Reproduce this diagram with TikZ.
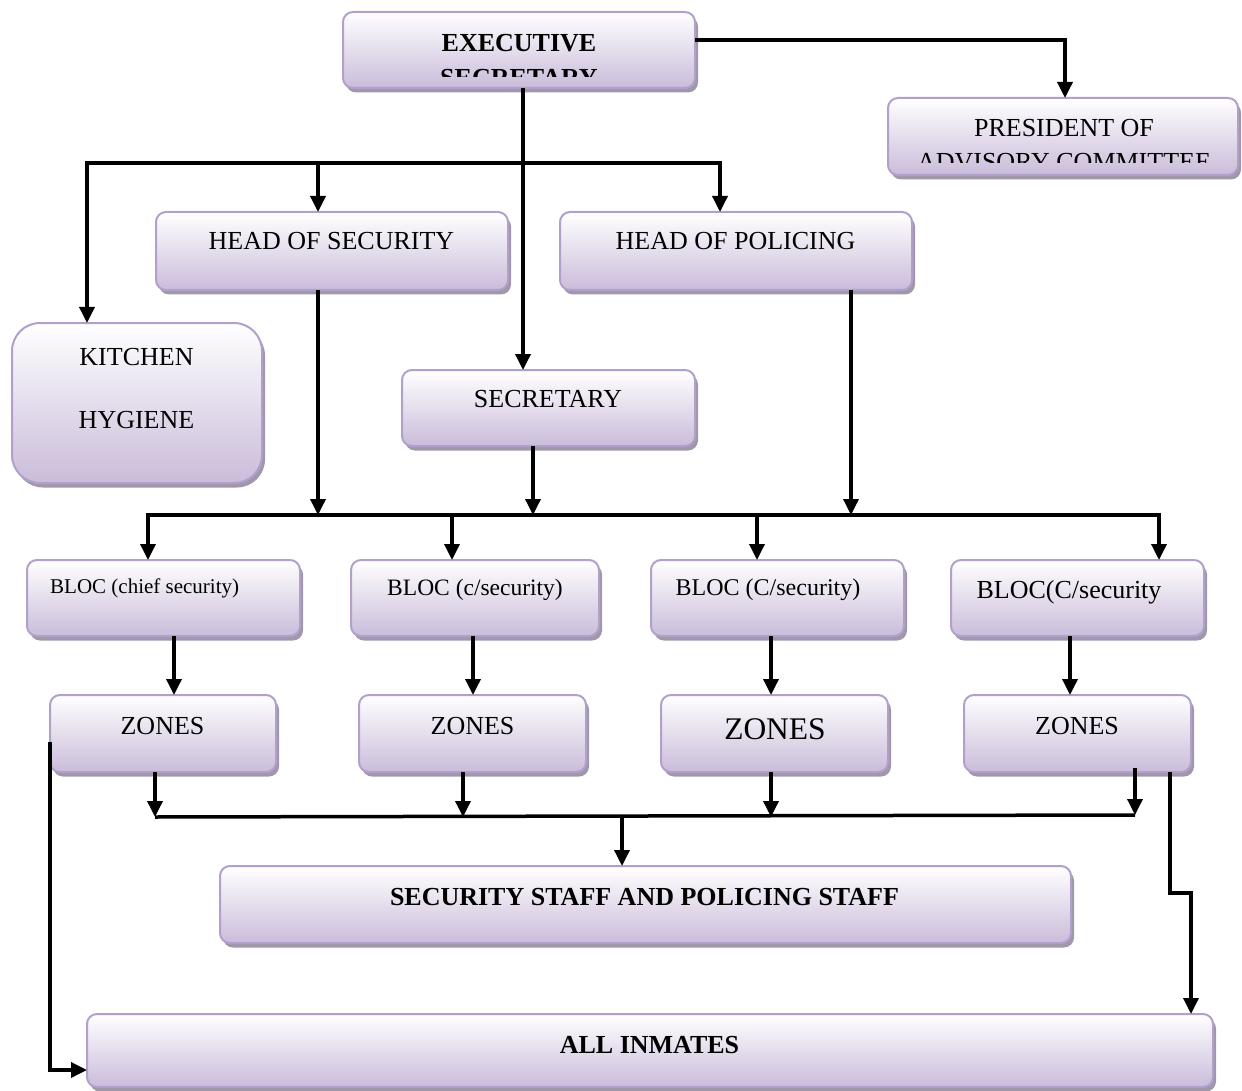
\documentclass[tikz,border=0pt]{standalone}
\usepackage{fontspec}
\setmainfont{Liberation Serif}
\usetikzlibrary{arrows.meta,shadows}
\definecolor{boxline}{RGB}{178,160,204}
\definecolor{boxbot}{RGB}{202,188,218}
\definecolor{shadowc}{RGB}{160,152,170}
\tikzset{
 bx/.style={draw=boxline, line width=2pt, rounded corners=10pt, top color=white, bottom color=boxbot,
   drop shadow={shadow xshift=3pt,shadow yshift=-4.5pt,fill=shadowc,opacity=1},
   inner sep=0pt, outer sep=0pt},
 tx/.style={anchor=base, inner sep=0pt, font=\fontsize{26}{30}\selectfont},
 ln/.style={line width=3.5pt, line cap=butt, line join=miter},
 arr/.style={ln, -{Triangle[width=15pt,length=16pt]}},
 arr2/.style={ln, {Triangle[width=15pt,length=16pt]}-{Triangle[width=15pt,length=16pt]}},
}
\begin{document}
\begin{tikzpicture}[x=1pt,y=-1pt]
\useasboundingbox (0,0) rectangle (1242,1091);

% boxes
\node[bx, minimum width=352pt, minimum height=76pt] (exec) at (519,50) {};
\node[bx, minimum width=350pt, minimum height=77pt] (pres) at (1063,136.5) {};
\node[bx, minimum width=352pt, minimum height=78pt] (hsec) at (332,251) {};
\node[bx, minimum width=352pt, minimum height=78pt] (hpol) at (736,251) {};
\node[bx, rounded corners=28pt, minimum width=250pt, minimum height=160pt] (kitchen) at (137,403) {};
\node[bx, minimum width=293pt, minimum height=76pt] (secr) at (548.5,408) {};
\node[bx, minimum width=273pt, minimum height=76pt] (bloc1) at (163.5,598) {};
\node[bx, minimum width=248pt, minimum height=76pt] (bloc2) at (475,598) {};
\node[bx, minimum width=253pt, minimum height=76pt] (bloc3) at (777.5,598) {};
\node[bx, minimum width=253pt, minimum height=76pt] (bloc4) at (1077.5,598) {};
\node[bx, minimum width=226pt, minimum height=77pt] (zones1) at (163,733.5) {};
\node[bx, minimum width=227pt, minimum height=77pt] (zones2) at (472.5,733.5) {};
\node[bx, minimum width=227pt, minimum height=77pt] (zones3) at (774.5,733.5) {};
\node[bx, minimum width=227pt, minimum height=77pt] (zones4) at (1077.5,733.5) {};
\node[bx, minimum width=851pt, minimum height=77pt] (staff) at (645.5,904.5) {};
\node[bx, minimum width=1126pt, minimum height=73pt] (inmates) at (650,1050.5) {};

% texts
\begin{scope}
\clip (345,14) rectangle (693,77);
\node[tx, font=\fontsize{26}{30}\selectfont\bfseries] (exec-t1) at (519,52) {EXECUTIVE};
\node[tx, font=\fontsize{26}{30}\selectfont\bfseries] (exec-t2) at (519,87) {SECRETARY};
\end{scope}
\begin{scope}
\clip (890,100) rectangle (1236,163);
\node[tx] (pres-t1) at (1064,137) {PRESIDENT OF};
\node[tx] (pres-t2) at (1064,171) {ADVISORY COMMITTEE};
\end{scope}
\node[tx] (hsec-t) at (331.5,250) {HEAD OF SECURITY};
\node[tx] (hpol-t) at (735.5,250) {HEAD OF POLICING};
\node[tx] (kitchen-t1) at (136.5,365) {KITCHEN};
\node[tx] (kitchen-t2) at (136.5,428) {HYGIENE};
\node[tx] (secr-t) at (548,407) {SECRETARY};
\node[tx, anchor=base west, font=\fontsize{21}{25}\selectfont] (bloc1-t) at (50,593) {BLOC (chief security)};
\node[tx, font=\fontsize{23.5}{27}\selectfont] (bloc2-t) at (475,595) {BLOC (c/security)};
\node[tx, font=\fontsize{24}{28}\selectfont] (bloc3-t) at (768,595) {BLOC (C/security)};
\node[tx] (bloc4-t) at (1069,598) {BLOC(C/security};
\node[tx] (zones1-t) at (162.5,734) {ZONES};
\node[tx] (zones2-t) at (472.5,734) {ZONES};
\node[tx, font=\fontsize{31.5}{36}\selectfont] (zones3-t) at (775,739.5) {ZONES};
\node[tx] (zones4-t) at (1077,734) {ZONES};
\node[tx, font=\fontsize{26}{30}\selectfont\bfseries] (staff-t) at (644.5,905) {SECURITY STAFF AND POLICING STAFF};
\node[tx, font=\fontsize{26}{30}\selectfont\bfseries] (inmates-t) at (649.5,1053) {ALL INMATES};

% junction coordinates
\coordinate (vX) at (523,0);
\coordinate (pc) at (1065,40);
\coordinate (b1L) at (87,163);
\coordinate (b1M) at (318,163);
\coordinate (b1R) at (720,163);
\coordinate (sX) at (533,0);
\coordinate (pX) at (851,0);
\coordinate (b2L) at (148,515);
\coordinate (b2a) at (452,515);
\coordinate (b2b) at (757,515);
\coordinate (b2R) at (1159,515);
\coordinate (z1) at (174,0);
\coordinate (z2) at (473,0);
\coordinate (z3) at (771,0);
\coordinate (z4) at (1070,0);
\coordinate (b3L) at (155,817);
\coordinate (b3a) at (463,817);
\coordinate (b3b) at (771,817);
\coordinate (b3R) at (1135,815);
\coordinate (b3M) at (622,817);
\coordinate (lA) at (50,1070);
\coordinate (rA) at (1170,893);
\coordinate (rB) at (1191,893);

% connectors
\draw[arr] (exec.east |- pc) -- (pc) -- (pres.north -| pc);
\draw[arr] (exec.south -| vX) -- (secr.north -| vX);
\draw[arr2] (kitchen.north -| b1L) -- (b1L) -- (b1R) -- (hpol.north -| b1R);
\draw[arr] (b1M) -- (hsec.north -| b1M);

\draw[arr] (hsec.south -| b1M) -- (b1M |- b2L);
\draw[arr] (secr.south -| sX) -- (sX |- b2L);
\draw[arr] (hpol.south -| pX) -- (pX |- b2L);

\draw[arr2] (bloc1.north -| b2L) -- (b2L) -- (b2R) -- (bloc4.north -| b2R);
\draw[arr] (b2a) -- (bloc2.north -| b2a);
\draw[arr] (b2b) -- (bloc3.north -| b2b);

\draw[arr] (bloc1.south -| z1) -- (zones1.north -| z1);
\draw[arr] (bloc2.south -| z2) -- (zones2.north -| z2);
\draw[arr] (bloc3.south -| z3) -- (zones3.north -| z3);
\draw[arr] (bloc4.south -| z4) -- (zones4.north -| z4);

\draw[ln] (b3L) -- (b3R);
\draw[arr] (zones1.south -| b3L) -- (b3L);
\draw[arr] (zones2.south -| b3a) -- (b3a);
\draw[arr] (zones3.south -| b3b) -- (b3b);
\draw[arr] ([yshift=4pt]zones4.south -| b3R) -- (b3R);
\draw[arr] (b3M) -- (staff.north -| b3M);

\draw[arr] ([yshift=-8.5pt]zones1.west) -- (lA) -- (inmates.west |- lA);
\draw[arr] (zones4.south -| rA) -- (rA) -- (rB) -- (inmates.north -| rB);
\end{tikzpicture}
\end{document}
